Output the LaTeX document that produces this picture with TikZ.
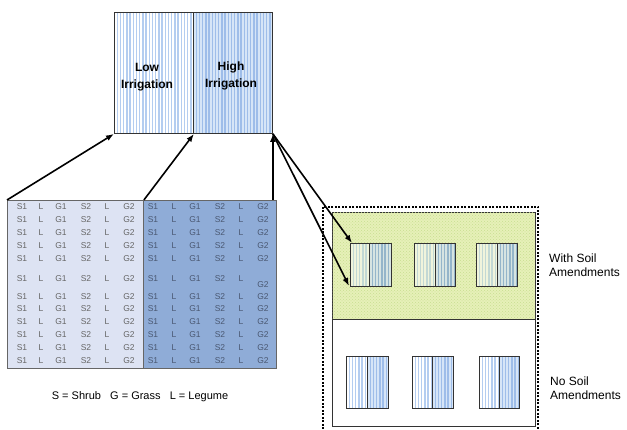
\documentclass[tikz,border=0pt]{standalone}
\usepackage{fontspec}
\setmainfont{Liberation Sans}
\usetikzlibrary{arrows.meta,patterns,calc}
\definecolor{stripeA}{HTML}{B4CDF0}
\definecolor{bgB}{HTML}{D6E5F7}
\definecolor{stripeB}{HTML}{9EBDE9}
\definecolor{gridLc}{HTML}{DDE3F3}
\definecolor{gridRc}{HTML}{8FACD7}
\definecolor{gtxtL}{HTML}{666666}
\definecolor{gtxtR}{HTML}{4A5872}
\definecolor{soil}{HTML}{E6F0B8}
\definecolor{soildot}{HTML}{C8DE90}
\definecolor{sAbg}{HTML}{F0F4DC}
\definecolor{sA}{HTML}{C2D8D4}
\definecolor{sBbg}{HTML}{D6E4E2}
\definecolor{sB}{HTML}{94B5CA}
\definecolor{edge}{HTML}{333333}
\newcommand\mystripes[6]{%
  \pgfmathsetmacro\mysA{#1+#5}%
  \pgfmathsetmacro\mysB{#1+2*#5}%
  \pgfmathsetmacro\mysE{#3-0.6}%
  \foreach \xx in {\mysA,\mysB,...,\mysE}
    \draw[#6,line width=1.4pt] (\xx,#2) -- (\xx,#4);%
}
\tikzset{
  rect/.style={draw=edge,line width=0.9pt,inner sep=0pt,anchor=north west},
  gtxtl/.style={font=\fontsize{8.5}{9}\selectfont,text=gtxtL,inner sep=0pt},
  gtxtr/.style={font=\fontsize{8.5}{9}\selectfont,text=gtxtR,inner sep=0pt},
  arr/.style={line width=1.6pt,-{Latex[length=8pt,width=6pt]}},
  lbl/.style={font=\fontsize{12}{14}\selectfont,align=left,anchor=west,inner sep=0pt},
  toplbl/.style={font=\bfseries\fontsize{12}{17}\selectfont,align=center,inner sep=0pt},
}
\begin{document}
\begin{tikzpicture}[x=1pt,y=-1pt]
\clip (0,0) rectangle (627,430);
\fill[white] (0,0) rectangle (627,430);

% ---- top irrigation box
\fill[bgB] (193,12) rectangle (272,133);
\mystripes{114}{12}{193}{133}{3.2}{stripeA}
\mystripes{193}{12}{272}{133}{3.2}{stripeB}
\node[rect,minimum width=79pt,minimum height=121pt] (topL) at (114,12) {};
\node[rect,minimum width=79pt,minimum height=121pt] (topR) at (193,12) {};
\node[toplbl] (lowlbl) at (147,77) {Low\\Irrigation};
\node[toplbl] (highlbl) at (231,76) {High\\Irrigation};

% ---- planting grid
\node[rect,draw=gray!80!black,fill=gridLc,minimum width=136pt,minimum height=168pt] (gridL) at (7,200) {};
\node[rect,draw=gray!80!black,fill=gridRc,minimum width=133pt,minimum height=168pt] (gridR) at (143,200) {};
\foreach \r/\yy in {1/207,2/220,3/233,4/246,5/259,6/279,7/297,8/309,9/322,10/335,11/348,12/361}{
  \foreach \c/\xx/\t in {1/22/S1,2/41/L,3/61/G1,4/86/S2,5/107/L,6/129/G2}
    \node[gtxtl] (a\r-\c) at (\xx,\yy) {\t};
  \foreach \c/\xx/\t in {1/153/S1,2/174/L,3/195/G1,4/220/S2,5/241/L}
    \node[gtxtr] (b\r-\c) at (\xx,\yy) {\t};
}
\foreach \r/\yy in {1/207,2/220,3/233,4/246,5/259,7/297,8/309,9/322,10/335,11/348,12/361}
  \node[gtxtr] (b\r-6) at (263,\yy) {G2};
\node[gtxtr] (b6-6) at (263,285) {G2};
\node[font=\fontsize{11}{13}\selectfont,inner sep=0pt] (legend) at (140,397) {S = Shrub\ \ \ G = Grass\ \ \ L = Legume};

% ---- right panel
\node[rect,fill=soil,minimum width=203pt,minimum height=107pt] (soilp) at (332,212) {};
\fill[pattern=crosshatch dots,pattern color=soildot] (332.5,212.5) rectangle (534.5,318.5);
\node[rect,fill=white,minimum width=203pt,minimum height=107pt] (nosoilp) at (332,319) {};
\draw[line width=2pt,dash pattern=on 2pt off 1.5pt] (323,207) rectangle (538,445);

% small plots on amended soil
\foreach \i/\xa/\xb/\xc in {1/350/369/391,2/414/435/455,3/476/497/517}{
  \fill[sAbg] (\xa,243) rectangle (\xb,286);
  \fill[sBbg] (\xb,243) rectangle (\xc,286);
  \mystripes{\xa}{243}{\xb}{286}{3.2}{sA}
  \mystripes{\xb}{243}{\xc}{286}{3.2}{sB}
  \node[rect,minimum width=\xc pt-\xa pt,minimum height=43pt] (s\i) at (\xa,243) {};
  \draw[edge,line width=0.9pt] (\xb,243) -- (\xb,286);
}
% small plots without amendments
\foreach \i/\xa/\xb/\xc in {1/346/367/388,2/412/432/453,3/479/499/519}{
  \fill[white] (\xa,356) rectangle (\xb,408);
  \fill[bgB] (\xb,356) rectangle (\xc,408);
  \mystripes{\xa}{356}{\xb}{408}{3.2}{stripeA}
  \mystripes{\xb}{356}{\xc}{408}{3.2}{stripeB}
  \node[rect,minimum width=\xc pt-\xa pt,minimum height=52pt] (n\i) at (\xa,356) {};
  \draw[edge,line width=0.9pt] (\xb,356) -- (\xb,408);
}
\node[lbl] (withlbl) at (549,265.5) {With Soil\\Amendments};
\node[lbl] (nolbl) at (550,388) {No Soil\\Amendments};

% ---- arrows
\draw[arr] (gridL.north west) -- (topL.south west);
\draw[arr] (gridL.north east) -- (topL.south east);
\draw[arr] (topR.south east |- gridR.north) -- (topR.south east);
\draw[arr] (topR.south east) -- ($(s1.north west)+(2,0)$);
\draw[arr] (topR.south east) -- ($(s1.south west)+(-1,-1)$);
\end{tikzpicture}
\end{document}
